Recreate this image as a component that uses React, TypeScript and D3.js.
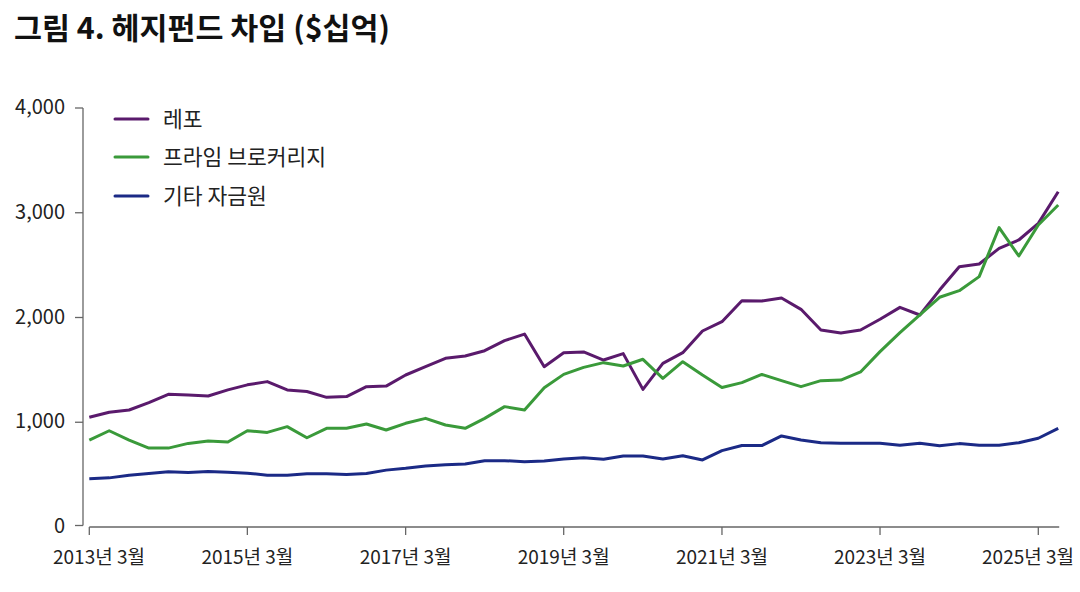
import React from "react";
import * as d3 from "d3";

const title = "그림 4. 헤지펀드 차입 ($십억)";
const seriesNames = ["레포", "프라임 브로커리지", "기타 자금원"];
const seriesColors = ["#5a1a6c", "#3a9a3a", "#1b2a86"];

// quarterly, 2013-03 .. 2025-06
const repo = [1047, 1095, 1117, 1187, 1267, 1261, 1251, 1309, 1357, 1388, 1309, 1293, 1238, 1245, 1340, 1345,
  1451, 1530, 1610, 1632, 1683, 1779, 1842, 1530, 1664, 1671, 1594, 1655, 1314, 1562, 1664, 1871,
  1960, 2160, 2158, 2186, 2078, 1881, 1852, 1881, 1983, 2097, 2024, 2262, 2485, 2511, 2660, 2740, 2899, 3201];
const primeBrokerage = [830, 919, 830, 753, 753, 798, 820, 811, 919, 903, 958, 852, 942, 942, 983, 926,
  990, 1037, 974, 942, 1037, 1149, 1117, 1330, 1457, 1524, 1569, 1537, 1601, 1419, 1578, 1451,
  1332, 1378, 1456, 1397, 1340, 1397, 1403, 1480, 1674, 1855, 2024, 2193, 2256, 2390, 2858, 2587, 2883, 3074];
const otherSources = [460, 469, 495, 511, 527, 520, 530, 523, 514, 495, 495, 508, 508, 501, 511, 543,
  560, 582, 595, 601, 633, 633, 624, 630, 649, 662, 646, 678, 678, 649, 681, 640,
  729, 778, 777, 869, 831, 805, 799, 799, 799, 780, 799, 776, 796, 780, 780, 805, 847, 942];

const yTicks = [0, 1000, 2000, 3000, 4000];
const xTickYears = [2013, 2015, 2017, 2019, 2021, 2023, 2025];

const dates = repo.map((_, i) => new Date(2013, 2 + i * 3, 1));

export default function App() {
  const W = 1080, H = 592;
  const x = d3.scaleTime().domain([new Date(2013, 2, 1), new Date(2025, 2, 1)]).range([89.3, 1038.3]);
  const y = d3.scaleLinear().domain([0, 4000]).range([527, 108]);
  const line = d3.line<number>().x((_, i) => x(dates[i])).y((d) => y(d));
  const all = [repo, primeBrokerage, otherSources];
  const font = "'Noto Sans CJK KR', 'Noto Sans', sans-serif";
  const xEnd = x(dates[dates.length - 1]) + 1;
  return (
    <svg width={W} height={H} style={{ position: "absolute", left: 0, top: 0, background: "#fff" }} fontFamily={font}>
      <text x={14} y={39} fontSize={30} fontWeight={700} fill="#111" textLength={376} lengthAdjust="spacingAndGlyphs">{title}</text>
      {/* y axis */}
      <line x1={83} x2={83} y1={y(4000)} y2={y(0) - 1.5} stroke="#666" strokeWidth={1.3} />
      {yTicks.map((t) => (
        <g key={t}>
          <line x1={75} x2={83} y1={y(t) - (t === 0 ? 1.5 : 0)} y2={y(t) - (t === 0 ? 1.5 : 0)} stroke="#666" strokeWidth={1.3} />
          <text x={65} y={y(t) - 1} dy="0.35em" textAnchor="end" fontSize={20} fill="#222">{d3.format(",")(t)}</text>
        </g>
      ))}
      {/* x axis */}
      <line x1={89.3} x2={xEnd} y1={y(0)} y2={y(0)} stroke="#666" strokeWidth={1.3} />
      {xTickYears.map((yr, k) => {
        const px = x(new Date(yr, 2, 1));
        const first = k === 0;
        const last = k === xTickYears.length - 1;
        const tx = first ? 53 : last ? 1074 : px;
        const anchor = first ? "start" : last ? "end" : "middle";
        return (
          <g key={yr}>
            <line x1={px} x2={px} y1={y(0)} y2={y(0) + 8} stroke="#666" strokeWidth={1.3} />
            <text x={tx} y={564} textAnchor={anchor} fontSize={19} fill="#222">{`${yr}년 3월`}</text>
          </g>
        );
      })}
      {all.map((s, k) => (
        <path key={k} d={line(s) || ""} fill="none" stroke={seriesColors[k]} strokeWidth={3} strokeLinejoin="round" />
      ))}
      {seriesNames.map((n, k) => {
        const ly = [119, 157, 196][k];
        return (
          <g key={n}>
            <line x1={115} x2={148} y1={ly} y2={ly} stroke={seriesColors[k]} strokeWidth={3} strokeLinecap="round" />
            <text x={163} y={ly} dy="0.35em" fontSize={21.5} fill="#222">{n}</text>
          </g>
        );
      })}
    </svg>
  );
}
